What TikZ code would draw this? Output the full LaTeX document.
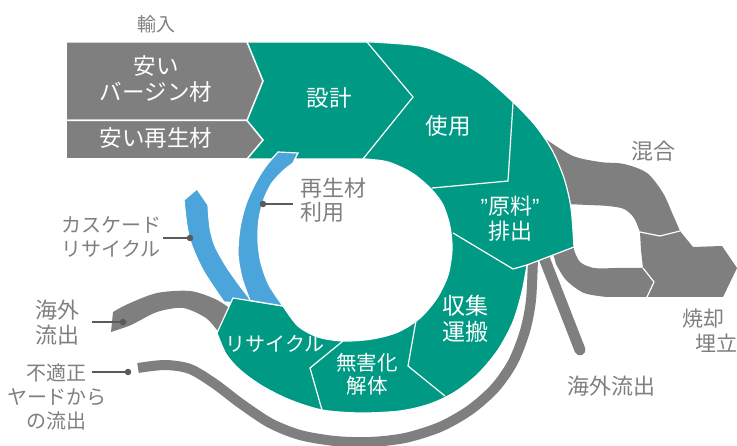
\documentclass[tikz,border=0pt]{standalone}
\usepackage{fontspec}
\newfontfamily\jp{Noto Sans CJK JP}
\newfontfamily\lat{Liberation Sans}
\definecolor{ring}{HTML}{009A84}
\definecolor{gbox}{HTML}{7F7F7F}
\definecolor{blu}{HTML}{4BA4DA}
\definecolor{lbl}{HTML}{7F7F7F}
\definecolor{ldr}{HTML}{5A5A5A}
\tikzset{
  wlab/.style={text=white, font=\jp\fontsize{22.5}{26}\selectfont, align=center, inner sep=0pt},
  glab/.style={text=lbl, font=\jp\fontsize{22}{24}\selectfont, align=center, inner sep=0pt},
  ldrline/.style={draw=ldr, line width=1.3pt},
  dotst/.style={fill=ldr, circle, inner sep=0pt, minimum size=6.5pt},
  sepline/.style={draw=white, line width=1.2pt},
  greyshape/.style={fill=gbox},
  blueshape/.style={fill=blu, draw=white, line width=1.2pt},
}
\begin{document}
\begin{tikzpicture}[x=1pt,y=-1pt]
\useasboundingbox (0,0) rectangle (737,446);

% ---- grey streams on the right ----
\path[greyshape] (547,140) -- plot[smooth] coordinates {(547,140) (573,156) (600,162) (624,164) (647,173) (663,193) (673,215) (680,231)}
  -- (660,236) -- (640,232)
  -- plot[smooth] coordinates {(640,232) (634,218) (624,209) (608,206) (588,205) (566,204)} -- cycle;
\path[greyshape] (680,231) -- (693,247) -- (722,246) -- (737,268) -- (723,297) -- (647,297) -- (654,282) -- (643,268) -- (641,250) -- (640,232) -- (660,236) -- cycle;
\path[greyshape] (552,250) -- (574,247) -- plot[smooth] coordinates {(574,250) (580,262) (594,268) (615,268)}
  -- (643,268) -- (654,282) -- (647,297) -- (607,297)
  -- plot[smooth] coordinates {(607,297) (584,293) (566,280) (556,264)} -- cycle;
\draw[sepline] (640,232) -- (660,236) -- (680,231);
\draw[sepline] (643,268) -- (654,282) -- (647,297);

% ---- long lower grey arc ----
\draw[gbox, line width=10pt] plot[smooth] coordinates {(138,368) (165,365) (190,369) (215,384) (240,403) (270,423) (300,435) (335,441) (370,442) (405,438) (440,427) (470,410) (495,388) (513,362) (525,331) (531,300) (533,258)};

% ---- overseas stick ----
\draw[white, line width=14pt, line cap=round] (541,250) -- (580,350);
\draw[gbox, line width=11pt, line cap=round] (541,250) -- (580,350);

% ---- left grey band ----
\path[greyshape] (113,312) -- plot[smooth] coordinates {(113,312) (128,304) (157,293) (190,291) (215,299) (232,310) (238,318)}
  -- (224,334) -- plot[smooth] coordinates {(224,334) (218,331) (206,318) (183,308) (157,312) (131,325) (111,332)} -- cycle;

% ---- cascade arrow ----
\path[blueshape] (224,302) -- plot[smooth] coordinates {(224,302) (204,272) (192,246) (187,226) (184,200)}
  -- (197,189) -- (208,205)
  -- plot[smooth] coordinates {(208,205) (210,228) (215,246) (226,266) (240,286) (254,304)} -- cycle;

% ---- green ring ----
\path[fill=ring, draw=white, line width=1.2pt] (247,42) -- (372,42)
  -- plot[smooth] coordinates {(372,42) (420,46) (450,57) (482,75) (512,101) (535,125) (552,150) (564,178) (571,208) (574,247)}
  -- (527,265)
  -- plot[smooth] coordinates {(527,265) (522,292) (513,322) (498,350) (478,374) (455,392) (430,404) (400,411) (360,413) (322,410) (290,400) (262,386) (240,370) (226,354) (217,333)}
  -- (233,298) -- (283,306)
  -- plot[smooth] coordinates {(283,306) (298,326) (318,337) (343,341) (372,339) (398,332) (420,318) (437,298) (448,275) (452,250) (450,227) (443,205) (431,189) (412,173) (388,162) (365,159)}
  -- (247,159) -- cycle;
\draw[sepline] (367,42) -- (413,97) -- (363,159);
\draw[sepline] (513,103) -- (508,181) -- (432,188);
\draw[sepline] (453,233) -- (513,269) -- (527,265);
\draw[sepline] (417,315) -- (408,366) -- (445,396);
\draw[sepline] (343,341) -- (310,368) -- (322,410);

% ---- recycled-material arrow ----
\path[blueshape] (250,300.5) -- plot[smooth] coordinates {(250,300.5) (242,278) (238,254) (240,228) (246,204) (256,182) (266,166) (278,152)}
  -- (298,153) -- (293,163)
  -- plot[smooth] coordinates {(293,163) (283,171) (272,183) (264,199) (259,219) (258,241) (261,263) (269,285) (283,306)} -- cycle;

% ---- grey input boxes ----
\path[fill=gbox, draw=white, line width=1.5pt] (66,42) -- (247,42) -- (263,81) -- (247,120.5) -- (66,120.5) -- cycle;
\path[fill=gbox, draw=white, line width=1.5pt] (66,120.5) -- (247,120.5) -- (263,140) -- (247,159) -- (66,159) -- cycle;

% ---- white labels ----
\node[wlab] (virgin) at (156,79) {安い\\バージン材};
\node[wlab] (recmat) at (156,138) {安い再生材};
\node[wlab] (sekkei) at (329,98) {設計};
\node[wlab] (shiyo) at (448,126) {使用};
\node[wlab, font=\jp\fontsize{22}{25}\selectfont] (haishutsu) at (510,218.5) {{\lat ”}原料{\lat ”}\\排出};
\node[wlab, font=\jp\fontsize{23}{26}\selectfont] (shushu) at (465,319) {収集\\運搬};
\node[wlab, font=\jp\fontsize{20.5}{22.5}\selectfont] (mugai) at (367,374) {無害化\\解体};
\node[wlab, font=\jp\fontsize{20}{24}\selectfont] (recycle) at (275,344) {リサイクル};

% ---- grey labels ----
\node[glab, font=\jp\fontsize{19}{20}\selectfont] (yunyu) at (156,24) {輸入};
\node[glab, align=left, anchor=west] (saisei) at (300,200.5) {再生材\\利用};
\node[glab, font=\jp\fontsize{20}{24}\selectfont] (cascade) at (111,237) {カスケード\\リサイクル};
\node[glab, font=\jp\fontsize{22}{25}\selectfont] (kaigai1) at (57,323) {海外\\流出};
\node[glab, font=\jp\fontsize{20}{24}\selectfont] (futeki) at (57,397) {不適正\\ヤードから\\の流出};
\node[glab] (kongo) at (653,151) {混合};
\node[glab] (kaigai2) at (611,386) {海外流出};
\node[glab, font=\jp\fontsize{21}{24}\selectfont] (shokyaku) at (703,319) {焼却};
\node[glab, font=\jp\fontsize{21}{24}\selectfont] (umetate) at (716,343) {埋立};

% ---- leaders ----
\node[dotst] (d1) at (263,204) {};
\coordinate (e1) at (293,204);
\draw[ldrline] (d1) -- (e1);
\node[dotst] (d2) at (190,238) {};
\coordinate (e2) at (163,238);
\draw[ldrline] (d2) -- (e2);
\node[dotst] (d3) at (123,322) {};
\coordinate (e3) at (92,322);
\draw[ldrline] (d3) -- (e3);
\node[dotst] (d4) at (128,372) {};
\coordinate (e4) at (92,372);
\draw[ldrline] (d4) -- (e4);
\end{tikzpicture}
\end{document}
